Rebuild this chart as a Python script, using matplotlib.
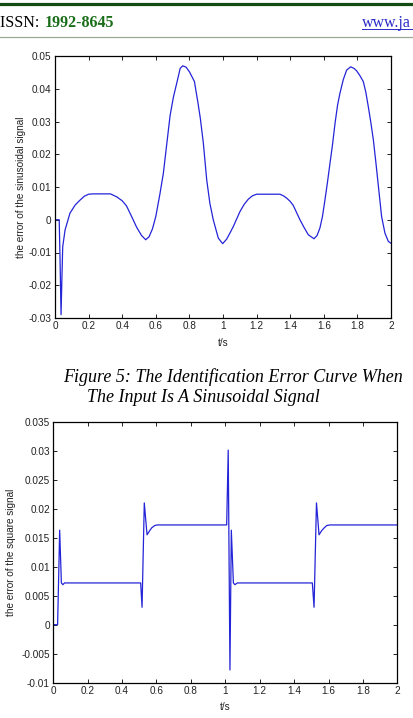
import matplotlib
matplotlib.use("Agg")
import matplotlib.pyplot as plt
from matplotlib.lines import Line2D
from matplotlib.ticker import FuncFormatter

# error curve, sinusoidal input
t_sin = [0, 0.025, 0.03, 0.036, 0.042, 0.046, 0.06, 0.089, 0.12, 0.149, 0.175, 0.2,
         0.23, 0.33, 0.367, 0.40, 0.426, 0.456, 0.486, 0.515, 0.54, 0.56, 0.58, 0.60,
         0.625, 0.645, 0.665, 0.685, 0.705, 0.726, 0.745, 0.76, 0.78, 0.80, 0.83, 0.85,
         0.865, 0.883, 0.903, 0.922, 0.942, 0.972, 0.998, 1.022, 1.042, 1.062, 1.081,
         1.101, 1.126, 1.151, 1.175, 1.2, 1.339, 1.36, 1.379, 1.40, 1.418, 1.438, 1.458,
         1.483, 1.508, 1.542, 1.56, 1.577, 1.592, 1.607, 1.622, 1.637, 1.652, 1.667,
         1.682, 1.696, 1.716, 1.736, 1.76, 1.78, 1.795, 1.815, 1.835, 1.85, 1.865, 1.88,
         1.895, 1.91, 1.925, 1.944, 1.964, 1.984, 2.0]
e_sin = [0, 0, -0.012, -0.029, -0.016, -0.0082, -0.0031, 0.002, 0.0045, 0.006, 0.0072,
         0.0078, 0.0079, 0.0079, 0.0070, 0.0058, 0.0042, 0.001, -0.0023, -0.0048, -0.0061,
         -0.0052, -0.0028, 0.001, 0.008, 0.0142, 0.023, 0.0318, 0.0375, 0.042, 0.0462,
         0.0470, 0.0466, 0.0452, 0.0422, 0.036, 0.031, 0.0234, 0.0122, 0.005, 0.0,
         -0.0056, -0.0073, -0.0059, -0.004, -0.002, 0.0002, 0.0025, 0.0047, 0.0063,
         0.0073, 0.0078, 0.0078, 0.0073, 0.0066, 0.0056, 0.0044, 0.0022, 0.0, -0.0024,
         -0.0046, -0.0058, -0.0048, -0.0025, 0.001, 0.0061, 0.0115, 0.0173, 0.023, 0.0295,
         0.035, 0.0386, 0.0428, 0.0457, 0.0467, 0.0462, 0.0455, 0.044, 0.0422, 0.039,
         0.0345, 0.0297, 0.0244, 0.0175, 0.0102, 0.001, -0.0041, -0.0066, -0.0072]

# error curve, square input
t_sq = [0, 0.025, 0.031, 0.037, 0.047, 0.056, 0.065, 0.508, 0.516, 0.529, 0.545, 0.56,
        0.572, 0.59, 0.605, 1.008, 1.017, 1.027, 1.035, 1.047, 1.056, 1.07, 1.506,
        1.516, 1.53, 1.545, 1.56, 1.575, 1.59, 1.608, 2.0]
e_sq = [0, 0, 0.008, 0.0163, 0.0072, 0.0069, 0.0072, 0.0072, 0.003, 0.021, 0.0155,
        0.0162, 0.0167, 0.0171, 0.0172, 0.0172, 0.0301, -0.0078, 0.0163, 0.0072, 0.0069,
        0.0072, 0.0072, 0.003, 0.021, 0.0155, 0.0162, 0.0167, 0.0171, 0.0172, 0.0172]

x_ticks = [0, 0.2, 0.4, 0.6, 0.8, 1, 1.2, 1.4, 1.6, 1.8, 2]
y_ticks_sin = [-0.03, -0.02, -0.01, 0, 0.01, 0.02, 0.03, 0.04, 0.05]
y_ticks_sq = [-0.01, -0.005, 0, 0.005, 0.01, 0.015, 0.02, 0.025, 0.03, 0.035]

plt.rcParams['font.family'] = ['Liberation Sans', 'DejaVu Sans']
plt.rcParams['axes.unicode_minus'] = False

W, H = 414, 718
fig = plt.figure(figsize=(W / 100, H / 100), dpi=100)


def px_axes(left, top, right, bottom):
    return fig.add_axes([left / W, 1 - bottom / H, (right - left) / W, (bottom - top) / H])


def style(ax, yticks, ylim):
    ax.set_xlim(0, 2)
    ax.set_ylim(*ylim)
    ax.set_xticks(x_ticks)
    ax.set_yticks(yticks)
    fmt = FuncFormatter(lambda v, p: '%g' % round(v, 4))
    ax.xaxis.set_major_formatter(fmt)
    ax.yaxis.set_major_formatter(fmt)
    ax.tick_params(direction='in', top=True, right=True, length=3, width=0.7,
                   labelsize=7.2, pad=2.5, colors='#222222')
    for s in ax.spines.values():
        s.set_linewidth(0.9)


ax1 = px_axes(55, 56, 391, 318)
ax1.plot(t_sin, e_sin, color='#2424d8', lw=0.9)
style(ax1, y_ticks_sin, (-0.03, 0.05))
ax1.set_xlabel('t/s', fontsize=7.2, labelpad=4.5, color='#222222')
ax1.set_ylabel('the error of the sinusoidal signal', fontsize=7.2, labelpad=2, color='#222222')

ax2 = px_axes(53.3, 421.7, 397.3, 682.7)
ax2.plot(t_sq, e_sq, color='#2424d8', lw=0.9)
style(ax2, y_ticks_sq, (-0.01, 0.035))
ax2.set_xlabel('t/s', fontsize=7.2, labelpad=4.5, color='#222222')
ax2.set_ylabel('the error of the square signal', fontsize=7.2, labelpad=3.5, color='#222222')

# page header
fig.add_artist(Line2D([0, 1], [1 - 4.2 / H] * 2, color='#144d14', lw=2.3))
fig.add_artist(Line2D([0, 1], [1 - 37 / H] * 2, color='#9aa894', lw=0.9))
fig.text(0, 1 - 23 / H, 'ISSN: ', family='Liberation Serif', fontsize=11.5,
         va='center', ha='left', color='black')
fig.text(45 / W, 1 - 23 / H, '1992-8645', family='Liberation Serif', fontsize=11.5,
         fontweight='bold', va='center', ha='left', color='#1a6e1a')
fig.text(362 / W, 1 - 23 / H, 'www.ja', family='Liberation Serif', fontsize=11.5,
         va='center', ha='left', color='#2a2ac8')
fig.add_artist(Line2D([362 / W, 1], [1 - 28.5 / H] * 2, color='#2a2ac8', lw=0.7))

# caption
fig.text(63 / W, 1 - 377 / H, 'Figure 5: The Identification Error Curve When',
         family='Liberation Serif', style='italic', fontsize=12.95, va='center', ha='left')
fig.text(87 / W, 1 - 398 / H, 'The Input Is A Sinusoidal Signal',
         family='Liberation Serif', style='italic', fontsize=12.95, va='center', ha='left')

fig.savefig('out.png', dpi=100)
